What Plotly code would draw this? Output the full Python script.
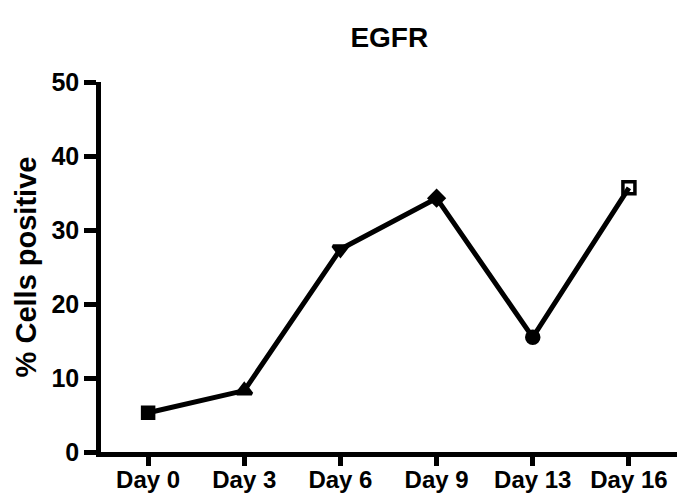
import plotly.graph_objects as go

# Percentage of EGFR-positive cells over the time course
days = ["Day 0", "Day 3", "Day 6", "Day 9", "Day 13", "Day 16"]
pct_positive = [5.3, 8.3, 27.4, 34.3, 15.5, 35.7]
marker_symbols = ["square", "triangle-up", "triangle-down", "diamond", "circle", "square-open"]
marker_sizes = [11, 13, 13, 11, 12, 12]

y_ticks = [0, 10, 20, 30, 40, 50]

FONT = "Liberation Sans, Arial, Helvetica, sans-serif"
x_pos = list(range(len(days)))

fig = go.Figure()
# connecting line
fig.add_trace(go.Scatter(
    x=x_pos, y=pct_positive, mode="lines",
    line=dict(color="#000000", width=5),
    showlegend=False, hoverinfo="skip",
))
# one symbol per time point
fig.add_trace(go.Scatter(
    x=x_pos, y=pct_positive, mode="markers",
    marker=dict(symbol=marker_symbols, size=marker_sizes, color="#000000", opacity=1,
                line=dict(color="#000000", width=3.5)),
    opacity=1, showlegend=False, cliponaxis=False,
))

fig.update_layout(
    width=677, height=493,
    margin=dict(l=101, r=0, t=82, b=41),
    paper_bgcolor="white", plot_bgcolor="white",
    title=dict(text="<b>EGFR</b>", x=0.575, xanchor="center", y=0.925, yanchor="middle",
               font=dict(family=FONT, size=28, color="black")),
    font=dict(family=FONT, color="black"),
)

fig.update_xaxes(
    range=[-0.49, 5.5],
    tickmode="array",
    tickvals=x_pos,
    ticktext=[f"<b>{d}</b>" for d in days],
    tickfont=dict(size=24, family=FONT, color="black"),
    showline=True, linecolor="black", linewidth=4.5,
    ticks="outside", ticklen=9, tickwidth=4.5, tickcolor="black",
    ticklabelstandoff=-7,
    showgrid=False, zeroline=False, automargin=False,
)

fig.update_yaxes(
    range=[0, 50],
    tickmode="array",
    tickvals=y_ticks,
    ticktext=[f"<b>{v}</b>" for v in y_ticks],
    tickfont=dict(size=25, family=FONT, color="black"),
    showline=True, linecolor="black", linewidth=4.5,
    ticks="outside", ticklen=12, tickwidth=4.5, tickcolor="black",
    showgrid=False, zeroline=False, automargin=False,
    title=dict(text="<b>% Cells positive</b>", font=dict(size=29, family=FONT, color="black"),
               standoff=8),
)

fig.write_html("out.html")
